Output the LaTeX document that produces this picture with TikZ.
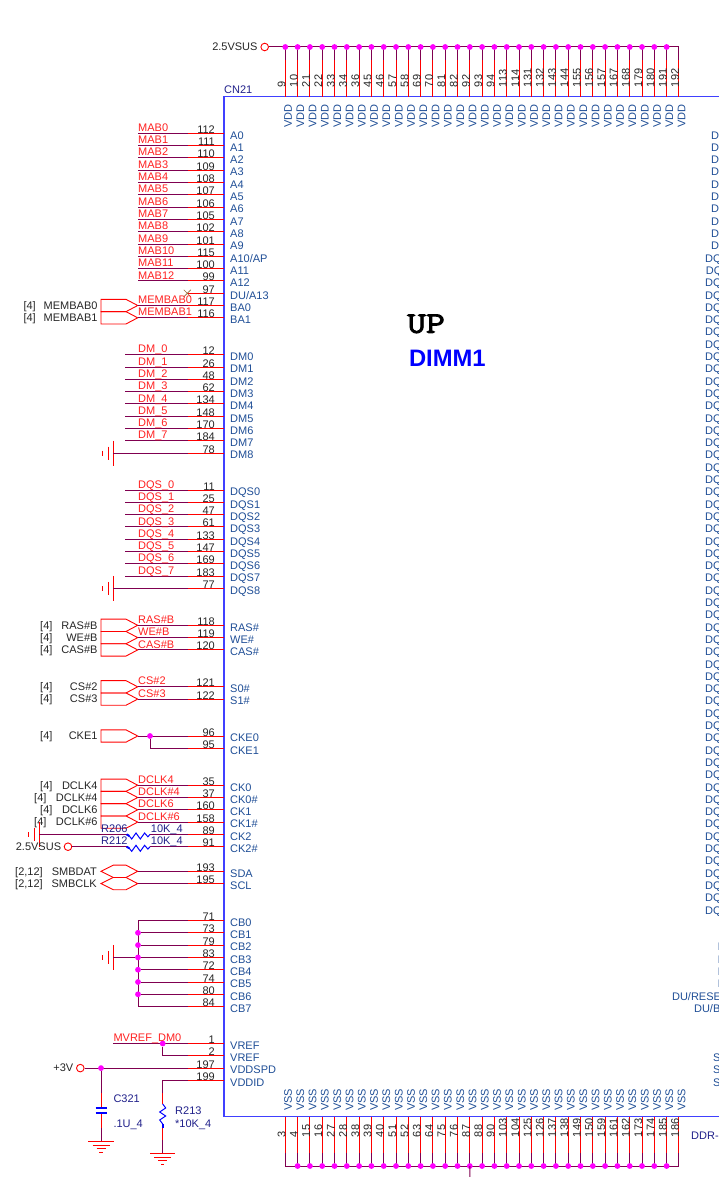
\documentclass[tikz,border=0pt]{standalone}
\usepackage{fontspec}
\setmainfont{Liberation Sans}
\newfontfamily\upfont[FakeBold=3,FakeStretch=1.22]{Latin Modern Mono}
\definecolor{wirecol}{HTML}{800050}
\definecolor{namecol}{HTML}{1F4E96}
\definecolor{partcol}{HTML}{20208A}
\definecolor{textcol}{HTML}{262626}
\definecolor{netcol}{HTML}{FF2020}
\definecolor{junctioncol}{RGB}{255,0,255}
\tikzset{
  pinline/.style={draw=red, line width=1pt},
  wireline/.style={draw=wirecol, line width=1pt},
  portline/.style={draw=red, line width=.9pt},
  gndline/.style={draw=red, line width=.9pt},
  partline/.style={draw=blue, line width=1pt},
  chipbox/.style={draw=blue!75!white, line width=1.2pt},
  junction/.style={circle, fill=junctioncol, inner sep=0pt, minimum size=5.8pt},
  powerring/.style={circle, draw=red, fill=white, line width=.9pt, inner sep=0pt, minimum size=7.6pt},
  pintext/.style={inner sep=0pt, font=\fontsize{11}{11}\selectfont},
  pinnum/.style={pintext, text=textcol, anchor=base east},
  pinname/.style={pintext, text=namecol, anchor=base west},
  netname/.style={pintext, text=netcol, anchor=base west},
  reftext/.style={pintext, text=textcol, anchor=base west},
  sigtext/.style={pintext, text=textcol, anchor=base east},
  parttext/.style={pintext, text=partcol, anchor=base west},
}
\begin{document}
\begin{tikzpicture}[x=1pt, y=-1pt]
\useasboundingbox (0,0) rectangle (719,1177);
\clip (0,0) rectangle (719,1177);

% connector outline
\draw[chipbox] (740,96.7)--(224,96.7)--(224,1116.7)--(740,1116.7);
\node[parttext] (cn) at (224,93.8) {CN21};
\node[pintext, anchor=base west, font=\fontsize{30}{30}\upfont, text=black] (up) at (407,332.8) {UP};
\node[pintext, anchor=base west, font=\fontsize{23.8}{24}\bfseries, text=blue] (dimm) at (408.8,366.5) {DIMM1};

% left side pins
\foreach \r/\num/\pname in {0/112/A0,1/111/A1,2/110/A2,3/109/A3,4/108/A4,5/107/A5,6/106/A6,7/105/A7,
  8/102/A8,9/101/A9,10/115/A10\slash AP,11/100/A11,12/99/A12,13/97/DU\slash A13,14/117/BA0,15/116/BA1,
  18/12/DM0,19/26/DM1,20/48/DM2,21/62/DM3,22/134/DM4,23/148/DM5,24/170/DM6,25/184/DM7,26/78/DM8,
  29/11/DQS0,30/25/DQS1,31/47/DQS2,32/61/DQS3,33/133/DQS4,34/147/DQS5,35/169/DQS6,36/183/DQS7,37/77/DQS8,
  40/118/RAS\#,41/119/WE\#,42/120/CAS\#,45/121/S0\#,46/122/S1\#,49/96/CKE0,50/95/CKE1,
  53/35/CK0,54/37/CK0\#,55/160/CK1,56/158/CK1\#,57/89/CK2,58/91/CK2\#,60/193/SDA,61/195/SCL,
  64/71/CB0,65/73/CB1,66/79/CB2,67/83/CB3,68/72/CB4,69/74/CB5,70/80/CB6,71/84/CB7,
  74/1/VREF,75/2/VREF,76/197/VDDSPD,77/199/VDDID}
{
    \coordinate (pin\r) at (224,{133.3+12.3*\r});
    \coordinate (end\r) at (187.7,{133.3+12.3*\r});
    \draw[pinline] (pin\r)--(end\r);
    \node[pinnum] (num\r) at (215,{133.3+12.3*\r}) {\num};
    \node[pinname] (name\r) at (230,{139.1+12.3*\r}) {\pname};
}

% address, mask and strobe nets
\foreach \r/\xend/\net in {0/138/MAB0,1/138/MAB1,2/138/MAB2,3/138/MAB3,4/138/MAB4,5/138/MAB5,6/138/MAB6,
  7/138/MAB7,8/138/MAB8,9/138/MAB9,10/138/MAB10,11/138/MAB11,12/138/MAB12,
  18/125.3/DM\_0,19/125.3/DM\_1,20/125.3/DM\_2,21/125.3/DM\_3,22/125.3/DM\_4,23/125.3/DM\_5,24/125.3/DM\_6,25/125.3/DM\_7,
  29/125.3/DQS\_0,30/125.3/DQS\_1,31/125.3/DQS\_2,32/125.3/DQS\_3,33/125.3/DQS\_4,34/125.3/DQS\_5,35/125.3/DQS\_6,36/125.3/DQS\_7}
{
    \coordinate (tip\r) at (\xend,{133.3+12.3*\r});
    \draw[wireline] (tip\r)--(end\r);
    \node[netname] (net\r) at (138,{131.4+12.3*\r}) {\net};
}
\draw[draw=brown!80!black, line width=.7pt] (183.8,289.8)--(190.8,296.8) (183.8,296.8)--(190.8,289.8);

% ports with a net name
\foreach \r/\xref/\reftxt/\sig/\net in {14/23.3/[4]/MEMBAB0/MEMBAB0,15/23.3/[4]/MEMBAB1/MEMBAB1,
  40/40/[4]/RAS\#B/RAS\#B,41/40/[4]/WE\#B/WE\#B,42/40/[4]/CAS\#B/CAS\#B,
  45/40/[4]/CS\#2/CS\#2,46/40/[4]/CS\#3/CS\#3,
  53/40/[4]/DCLK4/DCLK4,54/34/[4]/DCLK\#4/DCLK\#4,55/40/[4]/DCLK6/DCLK6,56/34/[4]/DCLK\#6/DCLK\#6}
{
    \coordinate (tip\r) at (137.7,{133.3+12.3*\r});
    \draw[portline] (tip\r)-- ++(-11.7,-6.15)-- ++(-25,0)-- ++(0,12.3)-- ++(25,0)--cycle;
    \draw[wireline] (tip\r)--(end\r);
    \node[netname] (net\r) at (138,{131.4+12.3*\r}) {\net};
    \node[reftext] (ref\r) at (\xref,{137.1+12.3*\r}) {\reftxt};
    \node[sigtext] (sig\r) at (97.7,{137.1+12.3*\r}) {\sig};
}

% CKE1 port
\coordinate (tip49) at (137.7,{133.3+12.3*49});
\draw[portline] (tip49)-- ++(-11.7,-6.15)-- ++(-25,0)-- ++(0,12.3)-- ++(25,0)--cycle;
\draw[wireline] (tip49)--(end49);
\node[reftext] (ref49) at (40,{137.1+12.3*49}) {[4]};
\node[sigtext] (sig49) at (97.7,{137.1+12.3*49}) {CKE1};
\node[junction] (cke) at (150,{133.3+12.3*49}) {};
\draw[wireline] (cke)|-(end50);

% SMBus ports
\foreach \r/\sig in {60/SMBDAT,61/SMBCLK}
{
    \coordinate (tip\r) at (137.7,{133.3+12.3*\r});
    \draw[portline] (tip\r)-- ++(-11.7,-6.15)-- ++(-12.7,0)-- ++(-12.3,6.15)-- ++(12.3,6.15)-- ++(12.7,0)--cycle;
    \draw[wireline] (tip\r)--(end\r);
    \node[reftext] (ref\r) at (15,{137.1+12.3*\r}) {[2,12]};
    \node[sigtext] (sig\r) at (97,{137.1+12.3*\r}) {\sig};
}

% grounds on the side
\foreach \r/\gx in {26/113.3,37/113.3,67/113.3,57/39.3}
{
    \coordinate (gnd\r) at (\gx,{133.3+12.3*\r});
    \draw[gndline] (gnd\r) ++(0,-12.6)-- ++(0,25.2);
    \draw[gndline] (gnd\r) ++(-5.2,-6.5)-- ++(0,13);
    \draw[gndline] (gnd\r) ++(-10.4,-2.4)-- ++(0,4.8);
}
\draw[wireline] (gnd26)--(end26);
\draw[wireline] (gnd37)--(end37);

% CK2 and CK2# resistors
\node[powerring] (vsusb) at (68,{133.3+12.3*58}) {};
\node[pintext, text=textcol, anchor=base east] (vsusbt) at (61.3,{137.1+12.3*58}) {2.5VSUS};
\foreach \r/\rname/\from in {57/R206/gnd57,58/R212/vsusb}
{
    \coordinate (resl\r) at (126.7,{133.3+12.3*\r});
    \coordinate (resr\r) at (150,{133.3+12.3*\r});
    \draw[wireline] (\from)--(resl\r);
    \draw[wireline] (resr\r)--(end\r);
    \draw[partline] (resl\r)--++(2.6,1.6)--++(2.4,3)--++(4.3,-6)--++(4.3,6)--++(4.3,-6)--++(3.3,3.8)--(resr\r);
    \draw[partline, line width=2pt] (resl\r)--++(2.6,1.6);
    \node[parttext] (rn\r) at (101,{131.4+12.3*\r}) {\rname};
    \node[parttext] (rv\r) at (150.7,{131.4+12.3*\r}) {10K\_4};
}

% check bits to ground
\coordinate (cbtop) at (138,{133.3+12.3*64});
\coordinate (cbbot) at (138,{133.3+12.3*71});
\draw[wireline] (end64)-|(cbtop)--(cbbot)--(end71);
\foreach \r in {65,...,70}
{
    \node[junction] (cb\r) at (138,{133.3+12.3*\r}) {};
    \draw[wireline] (cb\r)--(end\r);
}
\draw[wireline] (gnd67)--(cb67);

% VREF
\coordinate (vref) at (113.3,{133.3+12.3*74});
\draw[wireline] (vref)--(end74);
\node[junction] (vrefj) at (162.7,{133.3+12.3*74}) {};
\draw[wireline] (vrefj)|-(end75);
\node[netname] (vrefn) at (113.3,{1041.3}) {MVREF\_DM0};

% +3V, C321
\node[powerring] (vcc) at (80.3,{133.3+12.3*76}) {};
\node[pintext, text=textcol, anchor=base east] (vcct) at (73.5,{137.1+12.3*76}) {+3V};
\draw[wireline] (vcc)--(end76);
\node[junction] (vccj) at (101,{133.3+12.3*76}) {};
\coordinate (ctop) at (101,1093);
\coordinate (cpa) at (101,1107.7);
\coordinate (cpb) at (101,1113.3);
\coordinate (cmid) at (101,1128);
\coordinate (cgnd) at (101,1141);
\draw[wireline] (vccj)--(ctop);
\draw[pinline] (ctop)--(cpa) (cpb)--(cmid);
\draw[wireline] (cmid)--(cgnd);
\draw[partline, line width=2pt] (95.5,1107.7)--(106.5,1107.7) (95.5,1113.3)--(106.5,1113.3);
\node[parttext] (cname) at (113.3,1102) {C321};
\node[parttext] (cval) at (113.3,1127) {.1U\_4};

% VDDID, R213
\coordinate (rtop) at (162.7,1093);
\coordinate (rzt) at (162.7,1104);
\coordinate (rzb) at (162.7,1128);
\coordinate (rlow) at (162.7,1140);
\coordinate (rgnd) at (162.7,1153);
\draw[wireline] (end77)-|(rtop);
\draw[pinline] (rtop)--(rzt) (rzb)--(rlow);
\draw[wireline] (rlow)--(rgnd);
\draw[partline] (rzt)--++(3,4)--++(-6,4)--++(6,4)--++(-6,4)--++(3,4)--(rzb);
\draw[partline, line width=2.2pt] (162.7,1124)--(rzb);
\node[parttext] (rname) at (175,1114) {R213};
\node[parttext] (rval) at (175,1127) {*10K\_4};

% ground symbols below
\foreach \g in {cgnd,rgnd}
{
    \draw[gndline] (\g) ++(-12.7,0)-- ++(25.4,0);
    \draw[gndline] (\g) ++(-8.5,4.2)-- ++(17,0);
    \draw[gndline] (\g) ++(-4.5,7.6)-- ++(9,0);
    \draw[gndline] (\g) ++(-1.7,11)-- ++(3.4,0);
}

% top row, VDD
\node[powerring] (vsusa) at (264.7,47) {};
\node[pintext, text=textcol, anchor=base east] (vsusat) at (257.7,51) {2.5VSUS};
\coordinate (railtop) at (679,47);
\draw[wireline] (vsusa)--(railtop);
\foreach \num [count=\i from 0] in {9,10,21,22,33,34,36,45,46,57,58,69,70,81,82,92,93,94,113,114,131,132,143,144,155,156,157,167,168,179,180,191,192}
{
    \coordinate (vddbox\i) at ({285.3+12.3*\i},96.7);
    \coordinate (vddmid\i) at ({285.3+12.3*\i},60);
    \coordinate (vddrail\i) at ({285.3+12.3*\i},47);
    \draw[pinline] (vddbox\i)--(vddmid\i);
    \draw[wireline] (vddmid\i)--(vddrail\i);
    \node[pintext, text=textcol, rotate=90, anchor=base west] (vddnum\i) at ({285.3+12.3*\i},87.3) {\num};
    \node[pintext, text=namecol, rotate=90, anchor=base east] (vddname\i) at ({291.8+12.3*\i},104) {VDD};
}
\foreach \i in {0,...,31}
{
    \node[junction] (vddj\i) at (vddrail\i) {};
}

% bottom row, VSS
\foreach \num [count=\i from 0] in {3,4,15,16,27,28,38,39,40,51,52,63,64,75,76,87,88,90,103,104,125,126,137,138,149,150,159,161,162,173,174,185,186}
{
    \coordinate (vssbox\i) at ({285.3+12.3*\i},1116.7);
    \coordinate (vssmid\i) at ({285.3+12.3*\i},1153.3);
    \coordinate (vssrail\i) at ({285.3+12.3*\i},1166);
    \draw[pinline] (vssbox\i)--(vssmid\i);
    \draw[wireline] (vssmid\i)--(vssrail\i);
    \node[pintext, text=textcol, rotate=90, anchor=base west] (vssnum\i) at ({285.3+12.3*\i},1137.3) {\num};
    \node[pintext, text=namecol, rotate=90, anchor=base west] (vssname\i) at ({291.8+12.3*\i},1111) {VSS};
}
\draw[wireline] (vssrail0)--(vssrail32);
\foreach \i in {1,...,31}
{
    \node[junction] (vssj\i) at (vssrail\i) {};
}
\coordinate (vssout) at (469.8,1180);
\draw[wireline] (vssrail15)--(vssout);

% right side, cut by the page edge
\foreach \n in {0,...,63}
{
    \node[pintext, text=namecol, anchor=base east] (dq\n) at (734,{139.1+12.3*\n}) {DQ\n};
}
\foreach \r/\rtext in {66/NC,67/NC,68/NC,69/NC,70/DU\slash RESET\#,71/DU\slash BA2,75/SA0,76/SA1,77/SA2}
{
    \node[pintext, text=namecol, anchor=base east] (rname\r) at (734,{139.1+12.3*\r}) {\rtext};
}
\node[parttext] (ddr) at (691,1139) {DDR-};
\end{tikzpicture}
\end{document}
